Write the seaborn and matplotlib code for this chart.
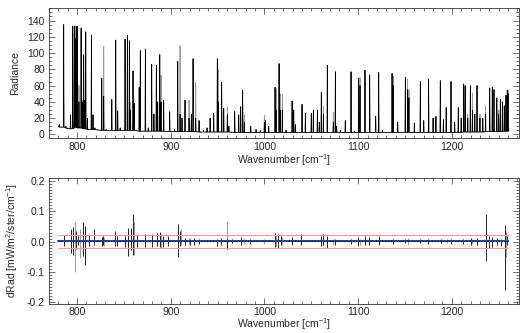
import numpy as np
import pandas as pd
import matplotlib
matplotlib.use("Agg")
import matplotlib.pyplot as plt
import seaborn as sns
from matplotlib.ticker import MultipleLocator

# ---------------- data ----------------
start_wn, start_rad = 780.0, 10.0
end_wn, end_rad = 1261.0, 6.0

peak_wn = [781, 785.7, 788, 790, 793, 795.3, 797, 798, 799.2, 800.3, 802, 804.3, 806, 807, 808.1,
           809.2, 811, 815.3, 817, 819, 826.3, 828.4, 831, 837, 841.2, 843.3, 846, 851.2, 853.7,
           855.8, 857, 859.7, 861, 866.3, 867.5, 872.9, 876, 879.6, 882, 884.6, 886, 888.2, 889.6,
           892.4, 898.8, 904, 907.4, 909.9, 912, 915.2, 919.5, 922, 923.8, 926.6, 930.2, 935, 938.7,
           942, 945.8, 949.7, 950.5, 954.3, 956.5, 960.4, 962, 968.2, 972.5, 974.6, 976.7, 978.5,
           985.3, 991, 995.6, 999.9, 1001, 1004.5, 1011.3, 1012.7, 1015.6, 1016.8, 1019.1, 1023,
           1029.5, 1031.2, 1033, 1040.1, 1043.7, 1050, 1052.2, 1056.5, 1058.5, 1060.7, 1062.9, 1067.1,
           1073.5, 1075.7, 1077, 1081, 1086.3, 1092.4, 1096, 1100.5, 1102, 1107.3, 1112.3, 1118.7,
           1121.9, 1126, 1136.2, 1137.5, 1142.2, 1150.4, 1152.8, 1154.2, 1160, 1166.4, 1170, 1175.2,
           1180, 1183, 1187.7, 1191, 1194, 1199.1, 1203, 1206.9, 1210, 1212.6, 1214.2, 1217, 1219.8,
           1222, 1224.5, 1226.9, 1230, 1233, 1236, 1240.4, 1243.2, 1245, 1248, 1250, 1251.8, 1254,
           1256, 1257.8, 1259.2, 1260]
peak_black = [12, 135, 10, 8, 24, 133, 133, 118, 133, 133, 40, 131, 40, 98, 42,
              126, 20, 122, 24, 8, 69, 47, 6, 43, 116, 29, 8, 117, 122,
              115, 30, 78, 38, 58, 103, 105, 8, 86, 25, 85, 40, 98, 40,
              42, 28, 6, 90, 25, 20, 42, 20, 25, 93, 20, 17, 5, 8,
              20, 26, 93, 40, 64, 32, 25, 10, 28, 24, 34, 54, 15,
              10, 6, 5, 15, 17, 10, 58, 30, 87, 30, 30, 5,
              41, 30, 12, 37, 26, 26, 30, 30, 15, 52, 25, 85,
              15, 77, 10, 5, 17, 77, 4, 69, 60, 79, 73, 22,
              76, 5, 75, 60, 15, 70, 55, 45, 14, 65, 17, 68,
              20, 22, 66, 18, 33, 65, 15, 33, 20, 62, 60, 20, 60,
              30, 25, 60, 20, 20, 25, 57, 58, 55, 45, 25, 43, 40,
              35, 48, 54, 50]
peak_gray = [12, 40, 10, 8, 24, 118, 125, 133, 100, 120, 60, 128, 42, 98, 40,
             126, 20, 122, 24, 8, 69, 108, 6, 43, 116, 29, 8, 117, 122,
             115, 40, 78, 38, 58, 103, 105, 8, 86, 25, 85, 40, 98, 73,
             42, 28, 6, 90, 109, 20, 42, 42, 25, 93, 64, 17, 5, 8,
             20, 26, 93, 80, 64, 32, 34, 10, 28, 24, 34, 54, 24,
             10, 6, 5, 24, 17, 10, 58, 56, 87, 50, 49, 5,
             41, 30, 12, 37, 26, 26, 30, 30, 15, 52, 35, 85,
             27, 77, 10, 5, 17, 77, 4, 69, 70, 79, 73, 22,
             76, 5, 75, 72, 15, 70, 68, 55, 14, 65, 17, 68,
             20, 22, 66, 18, 33, 65, 15, 33, 20, 62, 60, 25, 60,
             51, 25, 60, 25, 20, 35, 57, 58, 55, 45, 30, 43, 40,
             35, 48, 54, 55]
peak_base = [9, 9, 8, 7, 7, 7, 8, 9, 9, 8, 8, 8, 7, 7, 7,
             7, 6, 6, 6, 6, 5, 5, 5, 5, 5, 5, 5, 5, 5,
             5, 5, 5, 5, 4, 4, 4, 4, 4, 4, 4, 4, 4, 4,
             4, 3.5, 3.5, 3.5, 3.5, 3.5, 3.5, 3.5, 3.5, 3.5, 3.5, 3, 3, 3,
             3, 3, 3, 3, 3, 3, 3, 3, 2.5, 2.5, 2.5, 2.5, 2.5,
             2.5, 2.5, 2.5, 2.5, 2.5, 2.5, 2.5, 2.5, 2.5, 2.5, 2.5, 2.5,
             2.5, 2.5, 2.5, 2.5, 2.5, 2.5, 2.5, 2.5, 2.5, 2.5, 2.5, 2.5,
             2.5, 2.5, 2.5, 2.5, 2.5, 2.5, 2.5, 2.5, 2.5, 2.5, 2.5, 2.5,
             2.5, 2.5, 2.5, 2.5, 2.5, 2.5, 2.5, 2.5, 2.5, 2.5, 2.5, 2.5,
             2.5, 2.5, 2.5, 2.5, 2.5, 2.5, 2.5, 2.5, 2.5, 3, 3, 3, 3,
             3, 3, 3, 3, 3, 3.5, 3.5, 3.5, 3.5, 3.5, 3.5, 3.5, 3.5,
             4, 4, 4, 4]

diff_wn = [785.7, 793.5, 795.3, 798.5, 801, 806.4, 808.9, 812.4, 817.7, 826.3, 828, 840.9, 843,
           850.8, 854.4, 857.5, 859.7, 864, 873, 880, 885, 888.2, 892, 897, 907.4, 909.9, 915,
           920, 925, 930, 949.7, 954, 960.4, 965, 975, 985, 1011.6, 1014.5, 1017.5, 1029, 1039,
           1060, 1062, 1067, 1075, 1092, 1100, 1107, 1112, 1122, 1137, 1150, 1166, 1175, 1188,
           1199, 1212, 1220, 1227, 1236.3, 1240, 1243, 1248, 1252, 1257.1, 1259]
diff_hi = [0.021, 0.043, 0.048, 0.035, 0.02, 0.064, 0.053, 0.021, 0.04, 0.015, 0.02, 0.036, 0.02,
           0.02, 0.044, 0.044, 0.09, 0.022, 0.025, 0.026, 0.03, 0.033, 0.02, 0.02, 0.057, 0.035, 0.012,
           0.01, 0.012, 0.008, 0.01, 0.012, 0.01, 0.008, 0.015, 0.01, 0.03, 0.025, 0.02, 0.015, 0.025,
           0.02, 0.025, 0.02, 0.01, 0.01, 0.014, 0.02, 0.015, 0.017, 0.008, 0.01, 0.008, 0.01, 0.008,
           0.01, 0.01, 0.012, 0.012, 0.09, 0.02, 0.015, 0.012, 0.01, 0.055, 0.02]
diff_lo = [-0.016, -0.038, -0.045, -0.025, -0.012, -0.049, -0.077, -0.016, -0.012, -0.015, -0.012,
           -0.016, -0.013, -0.017, -0.048, -0.027, -0.045, -0.017, -0.017, -0.017, -0.015, -0.017,
           -0.017, -0.013, -0.05, -0.015, -0.012, -0.01, -0.01, -0.008, -0.015, -0.01, -0.025, -0.006,
           -0.01, -0.008, -0.018, -0.02, -0.012, -0.012, -0.012, -0.015, -0.012, -0.02, -0.01, -0.008,
           -0.015, -0.012, -0.01, -0.012, -0.008, -0.006, -0.006, -0.007, -0.006, -0.007, -0.008,
           -0.01, -0.01, -0.063, -0.02, -0.017, -0.012, -0.015, -0.16, -0.01]

diff_gray_wn = [798, 803, 829, 860.5, 889.6, 910.8, 919.5, 960.1, 978.5, 1000, 1012.7, 1019, 1063,
                1073, 1102, 1137.5, 1153, 1195, 1222, 1236, 1258]
diff_gray_hi = [0.065, 0.04, 0.015, 0.064, 0.025, 0.04, 0.012, 0.069, 0.012, 0.01, 0.02, 0.015,
                0.015, 0.01, 0.01, 0.01, 0.012, 0.008, 0.01, 0.03, 0.035]
diff_gray_lo = [-0.102, -0.055, -0.015, -0.045, -0.02, -0.012, -0.008, -0.025, -0.008, -0.008,
                -0.015, -0.01, -0.01, -0.01, -0.01, -0.008, -0.01, -0.006, -0.008, -0.02, -0.05]

limit_wn = [780, 1260]
upper_limit = 0.022
lower_limit = -0.020
mean_diff = 0.001

# ---------------- build tables ----------------
PEAK_HALF_WIDTH = 0.3


def spectrum_table(heights):
    xs, ys = [start_wn], [start_rad]
    for p, h, b in zip(peak_wn, heights, peak_base):
        xs += [p - PEAK_HALF_WIDTH, p, p + PEAK_HALF_WIDTH]
        ys += [b, h, b]
    xs.append(end_wn)
    ys.append(end_rad)
    return pd.DataFrame({"wn": xs, "rad": ys})


black_df = spectrum_table(peak_black)
gray_df = spectrum_table(peak_gray)

# ---------------- style ----------------
sns.set_theme(style="ticks")
plt.rcParams["font.family"] = ["Liberation Sans", "DejaVu Sans"]
plt.rcParams["mathtext.default"] = "regular"
plt.rcParams["axes.linewidth"] = 0.6
FS = 7.5

fig = plt.figure(figsize=(5.28, 3.33), dpi=100)
ax1 = fig.add_axes([0.0928, 0.5865, 0.8907, 0.3885])
ax2 = fig.add_axes([0.0928, 0.088, 0.8907, 0.3766])

sns.lineplot(data=gray_df, x="wn", y="rad", ax=ax1, color="#9a9a9a", lw=0.6,
             sort=False, estimator=None)
sns.lineplot(data=black_df, x="wn", y="rad", ax=ax1, color="black", lw=0.55,
             sort=False, estimator=None)

ax1.set_xlim(770, 1272)
ax1.set_ylim(-4, 155)
ax1.set_yticks(np.arange(0, 141, 20))
ax1.yaxis.set_minor_locator(MultipleLocator(5))
ax1.set_xticks([800, 900, 1000, 1100, 1200])
ax1.xaxis.set_minor_locator(MultipleLocator(10))
ax1.set_ylabel("Radiance", fontsize=FS)
ax1.set_xlabel("Wavenumber [cm$^{-1}$]", fontsize=FS, labelpad=0)

# bottom panel
ax2.vlines(diff_gray_wn, diff_gray_lo, diff_gray_hi, color="#a0a0a0", lw=0.8)
ax2.vlines(diff_wn, diff_lo, diff_hi, color="black", lw=0.6)
sns.lineplot(x=limit_wn, y=[upper_limit] * 2, ax=ax2, color="#ffa095", lw=0.8)
sns.lineplot(x=limit_wn, y=[lower_limit] * 2, ax=ax2, color="#ffa095", lw=0.8)
sns.lineplot(x=limit_wn, y=[mean_diff] * 2, ax=ax2, color="#2a4590", lw=1.5)
ax2.plot(limit_wn, [mean_diff] * 2, color="black", lw=0.7, ls=(0, (1, 2)))

ax2.set_xlim(770, 1272)
ax2.set_ylim(-0.205, 0.209)
ax2.set_yticks([-0.2, -0.1, 0.0, 0.1, 0.2])
ax2.set_yticklabels(["-0.2", "-0.1", "0.0", "0.1", "0.2"])
ax2.yaxis.set_minor_locator(MultipleLocator(0.01))
ax2.set_xticks([800, 900, 1000, 1100, 1200])
ax2.xaxis.set_minor_locator(MultipleLocator(10))
ax2.set_ylabel("dRad [mW/m$^2$/ster/cm$^{-1}$]", fontsize=FS)
ax2.set_xlabel("Wavenumber [cm$^{-1}$]", fontsize=FS, labelpad=0)

for ax in (ax1, ax2):
    ax.tick_params(which="both", direction="in", top=True, right=True,
                   labelsize=FS, width=0.5, color="#333333", pad=3)
    ax.tick_params(which="major", length=4)
    ax.tick_params(which="minor", length=2)
    for s in ax.spines.values():
        s.set_color("#333333")
    ax.yaxis.set_label_coords(-0.062, 0.5)

ax2.tick_params(axis="x", pad=2.5)
ax2.xaxis.set_label_coords(0.5, -0.1)

fig.savefig("out.png", dpi=100)
